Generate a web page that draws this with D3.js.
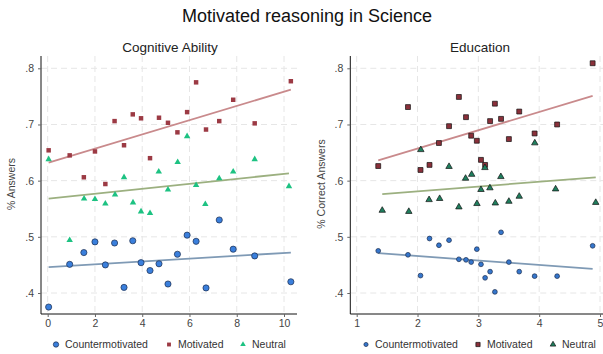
<!DOCTYPE html>
<html>
<head>
<meta charset="utf-8">
<script src="https://cdn.jsdelivr.net/npm/d3@7"></script>
<style>
  body { margin: 0; background: #fff; }
  text { font-family: "Liberation Sans", Arial, sans-serif; }
</style>
</head>
<body>
<div id="chart"></div>
<script>
// cognitive ability panel
const cogX = [0.04, 0.93, 1.53, 2.0, 2.44, 2.83, 3.23, 3.6, 3.95, 4.33, 4.71, 5.09, 5.49, 5.9, 6.28, 6.7, 7.26, 7.85, 8.76, 10.29];
const cogXNeutral = [0.04, 0.93, 1.54, 2.0, 2.44, 2.85, 3.23, 3.61, 3.95, 4.33, 4.7, 5.09, 5.5, 5.9, 6.28, 6.67, 7.26, 7.85, 8.76, 10.21];
const cogCounter = [0.375, 0.451, 0.472, 0.491, 0.45, 0.489, 0.41, 0.493, 0.454, 0.44, 0.452, 0.416, 0.469, 0.503, 0.492, 0.409, 0.53, 0.478, 0.466, 0.42];
const cogMotivated = [0.654, 0.645, 0.606, 0.652, 0.594, 0.706, 0.663, 0.718, 0.711, 0.64, 0.712, 0.703, 0.686, 0.722, 0.775, 0.691, 0.706, 0.744, 0.702, 0.777];
const cogNeutral = [0.638, 0.494, 0.568, 0.567, 0.559, 0.575, 0.606, 0.561, 0.545, 0.542, 0.616, 0.584, 0.633, 0.679, 0.592, 0.558, 0.604, 0.616, 0.638, 0.59];
// fitted lines, read at both ends
const cogFitX = [0.04, 10.29];
const cogFitCounter = [0.446, 0.472];
const cogFitMotivated = [0.632, 0.762];
const cogFitNeutral = [0.568, 0.613];

// education panel
const eduX = [1.354, 1.843, 2.049, 2.197, 2.352, 2.518, 2.68, 2.797, 2.882, 2.975, 3.043, 3.111, 3.193, 3.272, 3.373, 3.502, 3.672, 3.925, 4.295, 4.879];
const eduXNeutral = [1.42, 1.857, 2.054, 2.19, 2.364, 2.518, 2.68, 2.79, 2.89, 2.977, 3.043, 3.108, 3.19, 3.279, 3.37, 3.502, 3.672, 3.928, 4.27, 4.93];
const eduCounter = [0.475, 0.468, 0.431, 0.497, 0.485, 0.494, 0.46, 0.459, 0.455, 0.478, 0.451, 0.427, 0.438, 0.402, 0.508, 0.455, 0.438, 0.43, 0.43, 0.484];
const eduMotivated = [0.626, 0.731, 0.619, 0.628, 0.667, 0.697, 0.749, 0.713, 0.68, 0.671, 0.637, 0.628, 0.706, 0.737, 0.71, 0.674, 0.723, 0.684, 0.7, 0.809];
const eduNeutral = [0.547, 0.545, 0.655, 0.566, 0.568, 0.625, 0.553, 0.604, 0.611, 0.559, 0.584, 0.623, 0.587, 0.56, 0.607, 0.563, 0.572, 0.667, 0.585, 0.561];
const eduFitX = [1.354, 4.879];
const eduFitXNeutral = [1.42, 4.93];
const eduFitCounter = [0.471, 0.443];
const eduFitMotivated = [0.636, 0.751];
const eduFitNeutral = [0.576, 0.606];

const yTicks = [0.4, 0.5, 0.6, 0.7, 0.8];
const cogTicks = [0, 2, 4, 6, 8, 10];
const eduTicks = [1, 2, 3, 4, 5];
const legendLabels = ["Countermotivated", "Motivated", "Neutral"];

const width = 603,
  height = 354;

const svg = d3
  .select("#chart")
  .append("svg")
  .attr("width", width)
  .attr("height", height)
  .attr("viewBox", [0, 0, width, height]);

svg
  .append("text")
  .attr("x", 307)
  .attr("y", 22)
  .attr("text-anchor", "middle")
  .attr("font-size", 18)
  .attr("fill", "#111")
  .text("Motivated reasoning in Science");

const y = d3.scaleLinear().domain([0.4, 0.8]).range([293, 68.3]);
const fmtY = (d) => d3.format(".1f")(d).replace(/^0/, "");

const lineColors = ["#7f9ab5", "#c98a8c", "#9cb080"];

function drawPanel(opts) {
  const g = svg.append("g");
  const x = d3.scaleLinear().domain(opts.xDomain).range(opts.xRange);
  const top = 56,
    bottom = 314;

  // title
  g.append("text")
    .attr("x", opts.titleX)
    .attr("y", 52)
    .attr("text-anchor", "middle")
    .attr("font-size", 13.5)
    .attr("fill", "#222")
    .text(opts.title);

  // grid
  g.selectAll("line.hgrid")
    .data(yTicks)
    .join("line")
    .attr("x1", opts.left)
    .attr("x2", opts.right)
    .attr("y1", (d) => y(d))
    .attr("y2", (d) => y(d))
    .attr("stroke", "#e6e6e6")
    .attr("stroke-dasharray", "6,4");

  g.selectAll("line.vgrid")
    .data(opts.ticks)
    .join("line")
    .attr("x1", (d) => x(d))
    .attr("x2", (d) => x(d))
    .attr("y1", top)
    .attr("y2", bottom)
    .attr("stroke", "#e6e6e6")
    .attr("stroke-dasharray", "6,4");

  // y axis
  const yAxis = g
    .append("g")
    .attr("transform", `translate(${opts.left},0)`)
    .call(d3.axisLeft(y).tickValues(yTicks).tickFormat(fmtY).tickSize(3).tickPadding(4));
  yAxis.select(".domain").attr("d", `M0,${top}V${bottom}`).attr("stroke", "#111");
  yAxis.selectAll(".tick line").attr("stroke", "#666");
  yAxis.selectAll("text").attr("font-size", 10.5).attr("fill", "#444").attr("font-family", "Liberation Sans, Arial");

  // x axis
  const xAxis = g
    .append("g")
    .attr("transform", `translate(0,${bottom})`)
    .call(d3.axisBottom(x).tickValues(opts.ticks).tickFormat(d3.format("d")).tickSize(3).tickPadding(3));
  xAxis.select(".domain").attr("d", `M${opts.left},0H${opts.right}`).attr("stroke", "#111");
  xAxis.selectAll(".tick line").attr("stroke", "#666");
  xAxis.selectAll("text").attr("font-size", 10.5).attr("fill", "#444").attr("font-family", "Liberation Sans, Arial");

  // y label
  g.append("text")
    .attr("transform", `translate(${opts.ylabelX},184) rotate(-90)`)
    .attr("text-anchor", "middle")
    .attr("font-size", 10.5)
    .attr("fill", "#444")
    .text(opts.ylabel);

  // fitted lines
  const line = d3
    .line()
    .x((d) => x(d[0]))
    .y((d) => y(d[1]));

  opts.fits.forEach((f, i) => {
    g.append("path")
      .datum(d3.zip(f.xs, f.ys))
      .attr("d", line)
      .attr("fill", "none")
      .attr("stroke", lineColors[i])
      .attr("stroke-width", 1.8);
  });

  // points
  opts.series.forEach((s) => {
    g.append("g")
      .selectAll("path")
      .data(d3.zip(s.xs, s.ys))
      .join("path")
      .attr("transform", (d) => `translate(${x(d[0])},${y(d[1])})`)
      .attr("d", d3.symbol().type(s.type).size(s.size))
      .attr("fill", s.fill)
      .attr("stroke", s.stroke)
      .attr("stroke-width", s.stroke === "none" ? 0 : 0.7);
  });

  // legend
  const lg = g.append("g").attr("transform", "translate(0,348)");
  opts.series.forEach((s, i) => {
    lg.append("path")
      .attr("transform", `translate(${opts.legendX[i]},-3.5)`)
      .attr("d", d3.symbol().type(s.type).size(s.size * 0.75))
      .attr("fill", s.fill)
      .attr("stroke", s.stroke)
      .attr("stroke-width", s.stroke === "none" ? 0 : 0.7);
    lg.append("text")
      .attr("x", opts.legendX[i] + 9)
      .attr("y", 0)
      .attr("font-size", 10.5)
      .attr("fill", "#333")
      .text(legendLabels[i]);
  });
}

drawPanel({
  title: "Cognitive Ability",
  titleX: 170,
  xDomain: [0, 10],
  xRange: [47.7, 284],
  left: 41,
  right: 297,
  ticks: cogTicks,
  ylabel: "% Answers",
  ylabelX: 15,
  legendX: [56, 169, 243],
  fits: [
    { xs: cogFitX, ys: cogFitCounter },
    { xs: cogFitX, ys: cogFitMotivated },
    { xs: [cogXNeutral[0], cogXNeutral[19]], ys: cogFitNeutral },
  ],
  series: [
    { xs: cogX, ys: cogCounter, type: d3.symbolCircle, size: 30, fill: "#3a7fdc", stroke: "#1b2d4d" },
    { xs: cogX, ys: cogMotivated, type: d3.symbolSquare, size: 20, fill: "#9c3a44", stroke: "none" },
    { xs: cogXNeutral, ys: cogNeutral, type: d3.symbolTriangle, size: 18, fill: "#1dc282", stroke: "none" },
  ],
});

drawPanel({
  title: "Education",
  titleX: 480,
  xDomain: [1, 5],
  xRange: [356.7, 600],
  left: 350.3,
  right: 603,
  ticks: eduTicks,
  ylabel: "% Correct Answers",
  ylabelX: 325,
  legendX: [366, 478, 553],
  fits: [
    { xs: eduFitX, ys: eduFitCounter },
    { xs: eduFitX, ys: eduFitMotivated },
    { xs: eduFitXNeutral, ys: eduFitNeutral },
  ],
  series: [
    { xs: eduX, ys: eduCounter, type: d3.symbolCircle, size: 18, fill: "#3576cc", stroke: "#1b2d4d" },
    { xs: eduX, ys: eduMotivated, type: d3.symbolSquare, size: 24, fill: "#8a303a", stroke: "#111" },
    { xs: eduXNeutral, ys: eduNeutral, type: d3.symbolTriangle, size: 18, fill: "#1f7f5e", stroke: "#111" },
  ],
});
</script>
</body>
</html>
